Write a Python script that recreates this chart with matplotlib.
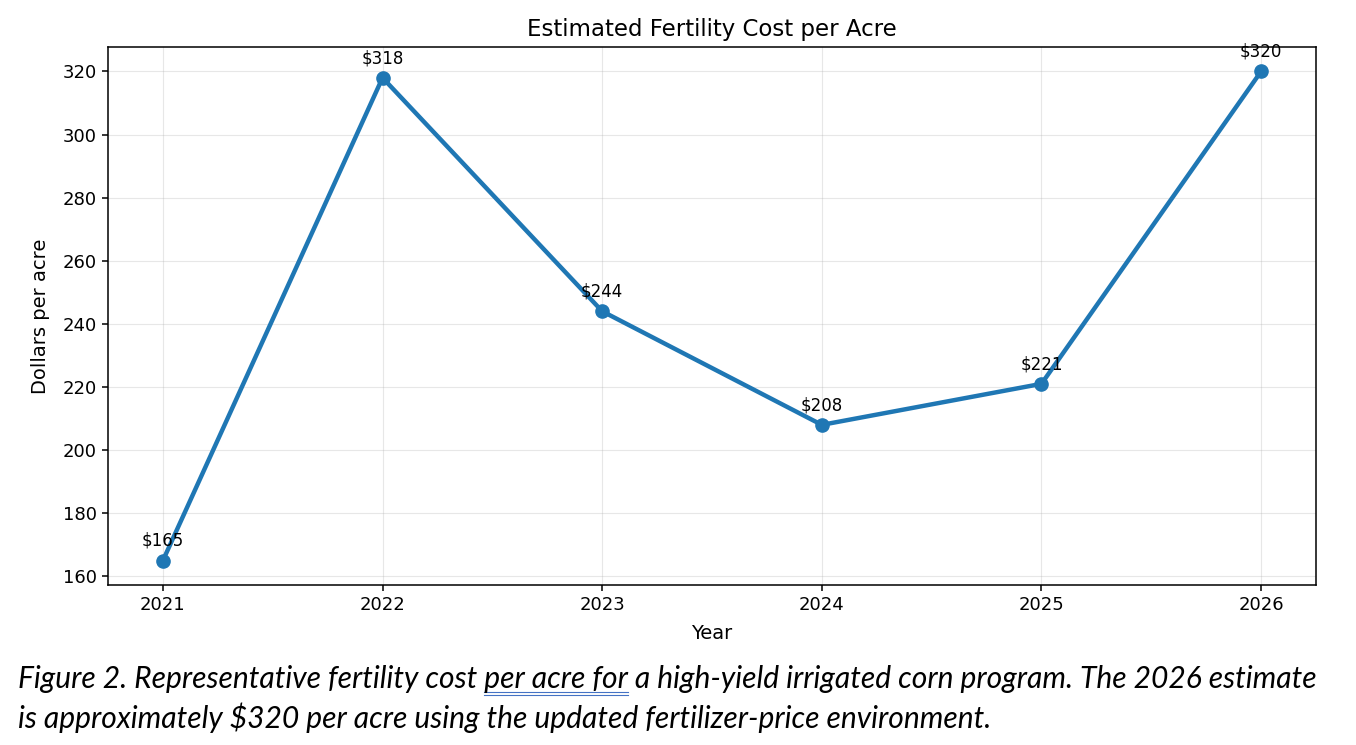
import matplotlib.pyplot as plt

plt.rcParams["font.family"] = "DejaVu Sans"

years = [2021, 2022, 2023, 2024, 2025, 2026]
cost = [165, 318, 244, 208, 221, 320]
labels = ["$165", "$318", "$244", "$208", "$221", "$320"]

caption1 = "Figure 2. Representative fertility cost per acre for a high-yield irrigated corn program. The 2026 estimate"
caption2 = "is approximately $320 per acre using the updated fertilizer-price environment."
cap_font = dict(fontsize=21.6, style="italic", family="Lato")

fig = plt.figure(figsize=(13.56, 7.45), dpi=100)
ax = fig.add_axes([108/1356, 1-585/745, (1316-108)/1356, (585-47)/745])

ax.plot(years, cost, marker="o", linewidth=3.2, markersize=9.5, color="#1f77b4")
for x, y, s in zip(years, cost, labels):
    ax.annotate(s, (x, y), textcoords="offset points", xytext=(0, 10.5),
                ha="center", fontsize=12)

ax.set_title("Estimated Fertility Cost per Acre", fontsize=16.5, pad=8)
ax.set_xlabel("Year", fontsize=14, labelpad=7)
ax.set_ylabel("Dollars per acre", fontsize=14, labelpad=9)
ax.set_xticks(years)
ax.tick_params(labelsize=13, length=4.5, width=1.1)
for sp in ax.spines.values():
    sp.set_linewidth(1.1)
ax.grid(True, alpha=0.3)

fig.text(18/1356, 1-688/745, caption1, va="baseline", **cap_font)
fig.text(18/1356, 1-728/745, caption2, va="baseline", **cap_font)

# double underline under "per acre for"
fig.canvas.draw()
r = fig.canvas.get_renderer()
pre = fig.text(18/1356, 0, "Figure 2. Representative fertility cost ", **cap_font)
mid = fig.text(18/1356, 0, "per acre for", **cap_font)
w_pre = pre.get_window_extent(r).width
w_mid = mid.get_window_extent(r).width
pre.remove()
mid.remove()
x0 = 18 + w_pre
for yy in (692, 695):
    fig.add_artist(plt.Line2D([x0/1356, (x0+w_mid)/1356], [1-yy/745, 1-yy/745],
                              color="#4472c4", linewidth=0.8))

fig.savefig("out.png", dpi=100)
